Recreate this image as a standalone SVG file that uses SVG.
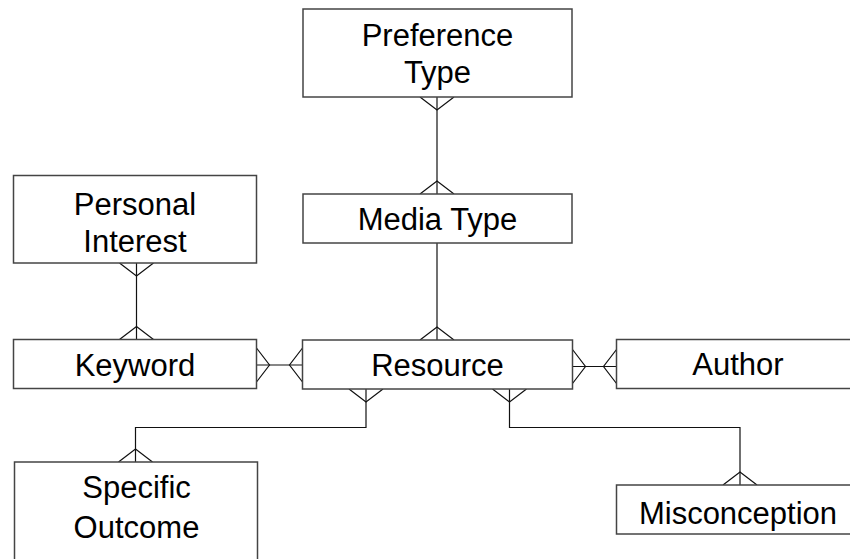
<svg xmlns="http://www.w3.org/2000/svg" xmlns:xlink="http://www.w3.org/1999/xlink" width="850" height="559" viewBox="0 0 850 559">
  <style>
    .box { fill: #ffffff; stroke: #444444; stroke-width: 1.5; }
    .lbl { font-family: "Liberation Sans", Arial, sans-serif; font-size: 31px; fill: #000000; text-anchor: middle; }
    .link { fill: none; stroke: #111111; stroke-width: 1.2; }
  </style>
  <defs>
    <!-- crow's foot: feet rest on the entity edge (y=0), apex points away from it -->
    <path id="crow" d="M-17,0 L0,-13 L17,0" fill="none" stroke="#111111" stroke-width="1.2"/>
  </defs>

  <rect width="850" height="559" fill="#ffffff"/>

  <g id="connectors">
    <!-- Preference Type - Media Type -->
    <line class="link" x1="437" y1="97" x2="437" y2="194"/>
    <use xlink:href="#crow" transform="translate(437,97) rotate(180)"/>
    <use xlink:href="#crow" transform="translate(437,194)"/>
    <!-- Media Type - Resource -->
    <line class="link" x1="437" y1="243" x2="437" y2="340"/>
    <use xlink:href="#crow" transform="translate(437,340)"/>
    <!-- Personal Interest - Keyword -->
    <line class="link" x1="136.5" y1="263" x2="136.5" y2="339.5"/>
    <use xlink:href="#crow" transform="translate(136.5,263) rotate(180)"/>
    <use xlink:href="#crow" transform="translate(136.5,339.5)"/>
    <!-- Keyword - Resource -->
    <line class="link" x1="256.5" y1="365" x2="302.5" y2="365"/>
    <use xlink:href="#crow" transform="translate(256.5,365) rotate(90)"/>
    <use xlink:href="#crow" transform="translate(302.5,365) rotate(-90)"/>
    <!-- Resource - Author -->
    <line class="link" x1="572.5" y1="366.5" x2="616.5" y2="366.5"/>
    <use xlink:href="#crow" transform="translate(572.5,366.5) rotate(90)"/>
    <use xlink:href="#crow" transform="translate(616.5,366.5) rotate(-90)"/>
    <!-- Resource - Specific Outcome -->
    <polyline class="link" points="366,389 366,427.5 135.5,427.5 135.5,462"/>
    <use xlink:href="#crow" transform="translate(366,389) rotate(180)"/>
    <use xlink:href="#crow" transform="translate(135.5,462)"/>
    <!-- Resource - Misconception -->
    <polyline class="link" points="509.5,389 509.5,427.5 740,427.5 740,485"/>
    <use xlink:href="#crow" transform="translate(509.5,389) rotate(180)"/>
    <use xlink:href="#crow" transform="translate(740,485)"/>
  </g>

  <g id="preference-type">
    <rect class="box" x="303" y="9" width="269" height="88"/>
    <text class="lbl" x="437.5" y="46">Preference</text>
    <text class="lbl" x="437.5" y="83">Type</text>
  </g>
  <g id="media-type">
    <rect class="box" x="303" y="194" width="269" height="49"/>
    <text class="lbl" x="437.5" y="230">Media Type</text>
  </g>
  <g id="personal-interest">
    <rect class="box" x="13.5" y="175.5" width="243" height="87.5"/>
    <text class="lbl" x="135" y="215">Personal</text>
    <text class="lbl" x="135" y="251.5">Interest</text>
  </g>
  <g id="keyword">
    <rect class="box" x="13.5" y="339.5" width="243" height="49"/>
    <text class="lbl" x="135" y="376">Keyword</text>
  </g>
  <g id="resource">
    <rect class="box" x="302.5" y="340" width="270" height="49"/>
    <text class="lbl" x="437.5" y="376">Resource</text>
  </g>
  <g id="author">
    <rect class="box" x="616.5" y="339.5" width="244" height="49"/>
    <text class="lbl" x="738" y="375">Author</text>
  </g>
  <g id="specific-outcome">
    <rect class="box" x="14.5" y="462" width="243" height="110"/>
    <text class="lbl" x="136.5" y="498">Specific</text>
    <text class="lbl" x="136.5" y="538">Outcome</text>
  </g>
  <g id="misconception">
    <rect class="box" x="616.5" y="485" width="244" height="49"/>
    <text class="lbl" x="738" y="524">Misconception</text>
  </g>
</svg>
